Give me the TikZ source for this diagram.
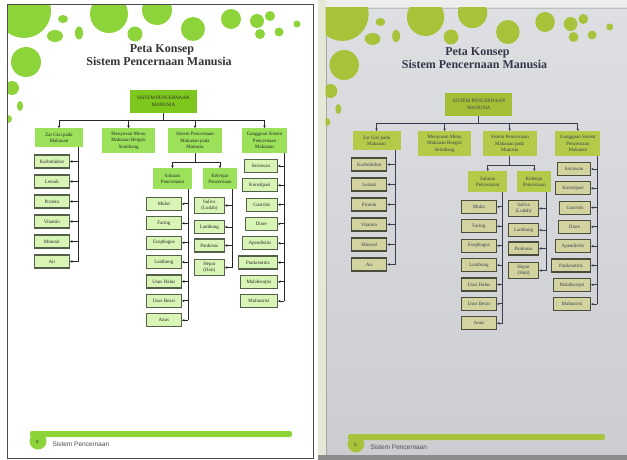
\documentclass[tikz,border=0pt]{standalone}
\usepackage{fontspec}
\setmainfont{Liberation Serif}
\newfontfamily\footfont{Liberation Sans}
\usetikzlibrary{arrows.meta}

% screen colours
\definecolor{limedot}{HTML}{8DD43A}
\definecolor{limeroot}{HTML}{7EC81E}
\definecolor{limetopic}{HTML}{9BE25A}
\definecolor{limeitem}{HTML}{D9F5B5}
\definecolor{itemline}{HTML}{55604A}
% printed colours
\definecolor{olivedot}{HTML}{A8C23A}
\definecolor{oliveroot}{HTML}{A3BF35}
\definecolor{olivetopic}{HTML}{B3CB48}
\definecolor{oliveitem}{HTML}{D2D39E}
\definecolor{oliveline}{HTML}{4A4C3C}
\definecolor{inkblue}{HTML}{3A3D50}
\definecolor{paperlight}{HTML}{DEDFE3}
\definecolor{paperdark}{HTML}{CCCDD1}
\definecolor{paperedge}{HTML}{E4E8D6}

\tikzset{
  box/.style={inner sep=1pt, align=center, text=textc, font=\fontsize{5}{6.5}\selectfont},
  rootbox/.style={box, fill=rootc, minimum width=67, minimum height=23},
  topicbox/.style={box, fill=topicc, minimum height=25, anchor=north},
  itembox/.style={box, fill=itemc, draw=itemd, line width=1.2pt, inner ysep=2.5pt, minimum height=13, anchor=east},
  link/.style={draw=linkc, line width=1pt},
  tip/.style={link, -{Stealth[length=2.5pt,width=2.6pt]}},
  heading/.style={text=titlec, font=\fontsize{12}{14}\bfseries},
  pagenum/.style={text=textc, font=\footfont\fontsize{4.5}{5}\selectfont},
  footer/.style={text=black!70, font=\footfont\fontsize{6.5}{7}\selectfont},
}

\newcommand{\conceptpage}{%
  % dots along the top
  \begin{scope}
    \clip (7,5) rectangle (313,458);
    \foreach \cx/\cy/\rx/\ry in {24/11/27/27, 63/19/5/4, 55/36/8/6, 79/33/4/6.5,
        109/14/19/19, 135/34/7.5/7.5, 26/62/15/15, 157/10/15/15, 193/29/12/12,
        231/19/10/10, 257/21/7/7, 270/16/5/5, 260/34/5/5, 279/32/4.5/4.5,
        297/24/3.5/3.5, 12/88/7/7, 20/106/3/5, 8/119/4/4}
      \fill[dotc] (\cx,\cy) ellipse [x radius=\rx, y radius=\ry];
  \end{scope}
  \node[heading] (peta) at (162,50) {Peta Konsep};
  \node[heading] (judul) at (159,61.5) {Sistem Pencernaan Manusia};
  % main branches
  \node[rootbox] (root) at (163.5,101.5) {SISTEM PENCERNAAN\\MANUSIA};
  \node[topicbox, minimum width=48, minimum height=19] (zat) at (59,128) {Zat Gizi pada\\Makanan};
  \node[topicbox, minimum width=53] (menu) at (128.5,128) {Menyusun Menu\\Makanan Bergizi\\Seimbang};
  \node[topicbox, minimum width=54] (sistem) at (195,128) {Sistem Pencernaan\\Makanan pada\\Manusia};
  \node[topicbox, minimum width=45] (gangguan) at (264.5,128) {Gangguan Sistem\\Pencernaan\\Makanan};
  \coordinate (hub) at (163.5,120);
  \draw[link] (root.south) -- (hub);
  \draw[link] (zat.north |- hub) -- (gangguan.north |- hub);
  \foreach \n in {zat,menu,sistem,gangguan}
    \draw[tip] (\n.north |- hub) -- (\n.north);
  % saluran and kelenjar
  \node[topicbox, minimum width=39, minimum height=21] (saluran) at (172.5,168) {Saluran\\Pencernaan};
  \node[topicbox, minimum width=34, minimum height=21] (kelenjar) at (220,168) {Kelenjar\\Pencernaan};
  \coordinate (fork) at (195,162);
  \draw[link] (sistem.south) -- (fork);
  \draw[link] (saluran.north |- fork) -- (kelenjar.north |- fork);
  \foreach \n in {saluran,kelenjar}
    \draw[tip] (\n.north |- fork) -- (\n.north);
  % zat gizi
  \coordinate (zs) at (78,0);
  \foreach \t [count=\i] in {Karbohidrat,Lemak,Protein,Vitamin,Mineral,Air}
    \node[itembox, minimum width=35] (zat\i) at (70,141.5+20*\i) {\t};
  \draw[link] (zat.south -| zs) -- (zat6.east -| zs);
  \foreach \i in {1,...,6}
    \draw[tip] (zat\i.east -| zs) -- (zat\i.east);
  % saluran pencernaan
  \coordinate (ss) at (188,0);
  \foreach \t [count=\i] in {Mulut,Faring,Esophagus,Lambung,Usus Halus,Usus Besar,Anus}
    \node[itembox, minimum width=35] (sal\i) at (182,184.5+19.4*\i) {\t};
  \draw[link] (saluran.south -| ss) -- (sal7.east -| ss);
  \foreach \i in {1,...,7}
    \draw[tip] (sal\i.east -| ss) -- (sal\i.east);
  % kelenjar pencernaan
  \coordinate (ks) at (232,0);
  \foreach \t/\y [count=\i] in {{Saliva\\(Ludah)}/205.5, Lambung/227, Pankreas/245.5, {Hepar\\(Hati)}/267.5}
    \node[itembox, minimum width=30] (kel\i) at (225,\y) {\t};
  \draw[link] (kelenjar.south -| ks) -- (kel4.east -| ks);
  \foreach \i in {1,...,4}
    \draw[tip] (kel\i.east -| ks) -- (kel\i.east);
  % gangguan
  \coordinate (gs) at (284,0);
  \foreach \t/\w [count=\i] in {Sariawan/33, Konstipasi/35, Gastritis/31, Diare/32,
      Apendisitis/35, Pankreatitis/39, Malabsorpsi/37, Malnutrisi/37}
    \node[itembox, minimum width=\w] (gang\i) at (278,146.7+19.3*\i) {\t};
  \draw[link] (gangguan.south -| gs) -- (gang8.east -| gs);
  \foreach \i in {1,...,8}
    \draw[tip] (gang\i.east -| gs) -- (gang\i.east);
  % footer
  \fill[dotc] (38,441) circle [radius=8.5];
  \fill[dotc, rounded corners=2pt] (30,431) rectangle (292,437);
  \node[pagenum] (num) at (37.5,442) {5};
  \node[footer, anchor=west] (foot) at (49,444.5) {Sistem Pencernaan};
}

\begin{document}
\begin{tikzpicture}[x=1pt,y=-1pt]
\useasboundingbox (0,0) rectangle (627,460);
\fill[white] (0,0) rectangle (627,460);

% page as drawn on screen
\begin{scope}[name prefix=L-]
  \colorlet{dotc}{limedot}
  \colorlet{rootc}{limeroot}
  \colorlet{topicc}{limetopic}
  \colorlet{itemc}{limeitem}
  \colorlet{itemd}{itemline}
  \colorlet{linkc}{black!85}
  \colorlet{textc}{black!85}
  \colorlet{titlec}{black!80}
  \conceptpage
\end{scope}
\draw[black!70, line width=1pt] (7,5) rectangle (313,458);

% the same page as printed
\fill[black!7] (318,0) rectangle (627,460);
\shade[top color=paperlight, bottom color=paperdark] (326,8) rectangle (627,455);
\fill[paperedge] (318,0) rectangle (326,455);
\draw[black!35, line width=0.8pt] (326,8) -- (326,455);
\draw[black!25, line width=0.6pt] (326,8) -- (627,8);
\fill[black!45] (318,455) rectangle (627,460);
\begin{scope}[shift={(318.7,3)}, xscale=0.98, name prefix=R-]
  \colorlet{dotc}{olivedot}
  \colorlet{rootc}{oliveroot}
  \colorlet{topicc}{olivetopic}
  \colorlet{itemc}{oliveitem}
  \colorlet{itemd}{oliveline}
  \colorlet{linkc}{inkblue}
  \colorlet{textc}{inkblue}
  \colorlet{titlec}{inkblue!90!black}
  \conceptpage
\end{scope}
\end{tikzpicture}
\end{document}
